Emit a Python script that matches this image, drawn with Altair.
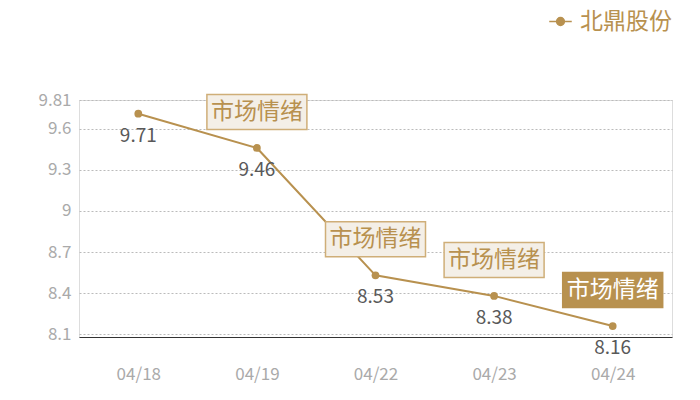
import altair as alt
import pandas as pd

dates = ["04/18", "04/19", "04/22", "04/23", "04/24"]
prices = [9.71, 9.46, 8.53, 8.38, 8.16]
series_name = "北鼎股份"
y_ticks = [8.1, 8.4, 8.7, 9.0, 9.3, 9.6, 9.81]
note_dates = ["04/19", "04/22", "04/23", "04/24"]
note_text = "市场情绪"
note_highlight = [False, False, False, True]

GOLD = "#b8914f"
FONT = "Noto Sans CJK SC"

df = pd.DataFrame({"date": dates, "price": prices, "series": series_name})
price_map = dict(zip(dates, prices))
notes = pd.DataFrame({
    "date": note_dates,
    "price": [price_map[d] for d in note_dates],
    "label": note_text,
    "hl": note_highlight,
})

xs = alt.X("date:N", sort=dates,
           scale=alt.Scale(type="point", padding=0.5),
           axis=alt.Axis(title=None, labelColor="#aaaaaa", labelFontSize=17,
                         labelFont=FONT, domain=True, domainColor="#333333",
                         ticks=False, grid=False, labelPadding=29, labelAngle=0))
ys = alt.Y("price:Q",
           scale=alt.Scale(domain=[8.08, 9.81], nice=False, zero=False),
           axis=alt.Axis(title=None, values=y_ticks, labelColor="#aaaaaa",
                         labelFontSize=17, labelFont=FONT, domain=False,
                         ticks=False, labelPadding=8, gridDash=[2, 2],
                         gridColor="#bbbbbb", labelExpr="format(datum.value, '')"))

legend_path = "M-1.3,0H1.3M-0.45,0A0.45,0.45 0 1,1 0.45,0A0.45,0.45 0 1,1 -0.45,0Z"

line = alt.Chart(df).mark_line(color=GOLD, strokeWidth=2).encode(
    x=xs, y=ys,
    color=alt.Color("series:N", scale=alt.Scale(range=[GOLD]),
                    legend=alt.Legend(title=None, orient="none", legendX=470, legendY=-90,
                                      padding=0,
                                      symbolType=legend_path, symbolSize=300,
                                      symbolStrokeWidth=1.5, symbolFillColor=GOLD,
                                      symbolStrokeColor=GOLD,
                                      labelColor=GOLD, labelFontSize=23,
                                      labelFont=FONT, labelOffset=8, labelLimit=200)),
)
pts = alt.Chart(df).mark_circle(color=GOLD, size=60, opacity=1).encode(x=xs, y=ys)
vals = alt.Chart(df).mark_text(color="#595959", fontSize=19, font=FONT, dy=22).encode(
    x=xs, y=ys, text=alt.Text("price:Q", format=".2f"))

boxes = alt.Chart(notes).mark_rect(width=100, height=35, yOffset=-36, strokeWidth=1.5).encode(
    x=xs, y=ys,
    fill=alt.condition("datum.hl", alt.value(GOLD), alt.value("#f4efe7")),
    stroke=alt.condition("datum.hl", alt.value(GOLD), alt.value("#cfae78")),
)
box_text = alt.Chart(notes).mark_text(fontSize=23, font=FONT, dy=-36).encode(
    x=xs, y=ys, text="label:N",
    color=alt.condition("datum.hl", alt.value("#ffffff"), alt.value(GOLD)),
)

chart = alt.layer(line, pts, vals, boxes, box_text).properties(
    width=593, height=237,
    autosize=alt.AutoSizeParams(type="none"),
    padding={"left": 71, "top": 92, "right": 20, "bottom": 50},
).configure_view(stroke=None).configure(background="#ffffff")

chart.save("out.html", embed_options={"renderer": "svg", "actions": False})
